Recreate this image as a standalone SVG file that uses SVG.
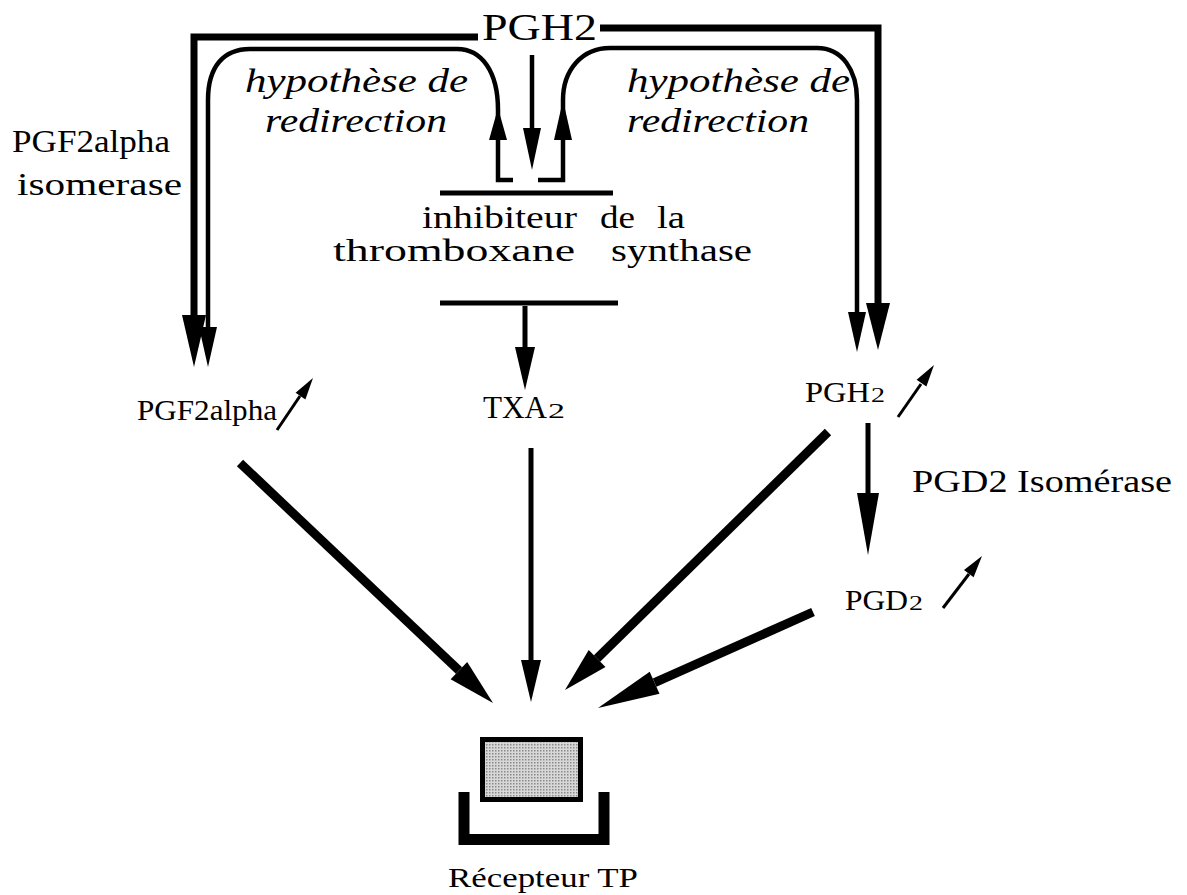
<svg xmlns="http://www.w3.org/2000/svg" width="1187" height="895" viewBox="0 0 1187 895">
<defs>
<style>
.t{font-family:"Liberation Serif","DejaVu Serif",serif;fill:#000}
.it{font-family:"Liberation Serif","DejaVu Serif",serif;font-style:italic;fill:#000}
.thick{fill:none;stroke:#000;stroke-width:7}
.inner{fill:none;stroke:#000;stroke-width:4.5}
.mid{fill:none;stroke:#000;stroke-width:5}
.diag{fill:none;stroke:#000;stroke-width:9}
.small{fill:none;stroke:#000;stroke-width:3}
.bar{fill:none;stroke:#000;stroke-width:5}
.head{fill:#000;stroke:none}
</style>
<pattern id="dots" width="3" height="3" patternUnits="userSpaceOnUse">
<rect width="3" height="3" fill="#d8d8d8"/>
<rect width="1.5" height="1.5" fill="#8a8a8a"/>
</pattern>
</defs>
<rect width="1187" height="895" fill="#fff"/>

<g id="node-pgh2-top">
<text class="t" x="482" y="40" font-size="38" textLength="115" lengthAdjust="spacingAndGlyphs">PGH2</text>
</g>

<g id="label-redirection-left">
<text class="it" x="245" y="92" font-size="33" textLength="223" lengthAdjust="spacingAndGlyphs">hypothèse de</text>
<text class="it" x="265" y="132" font-size="33" textLength="182" lengthAdjust="spacingAndGlyphs">redirection</text>
</g>

<g id="label-redirection-right">
<text class="it" x="627" y="92" font-size="33" textLength="223" lengthAdjust="spacingAndGlyphs">hypothèse de</text>
<text class="it" x="627" y="132" font-size="33" textLength="182" lengthAdjust="spacingAndGlyphs">redirection</text>
</g>

<g id="label-pgf2alpha-isomerase">
<text class="t" x="12" y="152" font-size="32" textLength="158" lengthAdjust="spacingAndGlyphs">PGF2alpha</text>
<text class="t" x="17" y="195" font-size="32" textLength="165" lengthAdjust="spacingAndGlyphs">isomerase</text>
</g>

<g id="node-inhibitor">
<line class="bar" x1="440" y1="193" x2="613" y2="193"/>
<text class="t" y="228" font-size="31"><tspan x="422" textLength="155" lengthAdjust="spacingAndGlyphs">inhibiteur</tspan><tspan x="600" textLength="35" lengthAdjust="spacingAndGlyphs">de</tspan><tspan x="657" textLength="28" lengthAdjust="spacingAndGlyphs">la</tspan></text>
<text class="t" y="261" font-size="31"><tspan x="333" textLength="242" lengthAdjust="spacingAndGlyphs">thromboxane</tspan><tspan x="611" textLength="141" lengthAdjust="spacingAndGlyphs">synthase</tspan></text>
<line class="bar" x1="440" y1="303" x2="618" y2="303"/>
</g>

<g id="node-pgf2alpha">
<text class="t" x="137" y="420" font-size="29" textLength="140" lengthAdjust="spacingAndGlyphs">PGF2alpha</text>
<line class="small" x1="277" y1="430" x2="300" y2="396"/>
<polygon class="head" points="313,378 305.4,399.5 295.6,392.7"/>
</g>

<g id="node-txa2">
<text class="t" x="483" y="418" font-size="31"><tspan textLength="64" lengthAdjust="spacingAndGlyphs">TXA</tspan><tspan font-size="22" x="548" textLength="17" lengthAdjust="spacingAndGlyphs">2</tspan></text>
</g>

<g id="node-pgh2">
<text class="t" x="805" y="402" font-size="29"><tspan textLength="65" lengthAdjust="spacingAndGlyphs">PGH</tspan><tspan font-size="20" x="871" textLength="14" lengthAdjust="spacingAndGlyphs">2</tspan></text>
<line class="small" x1="898" y1="417" x2="921" y2="384"/>
<polygon class="head" points="934,365 926.4,386.5 916.6,379.7"/>
</g>

<g id="label-pgd2-isomerase">
<text class="t" x="912" y="492" font-size="32" textLength="260" lengthAdjust="spacingAndGlyphs">PGD2 Isomérase</text>
</g>

<g id="node-pgd2">
<text class="t" x="845" y="610" font-size="29"><tspan textLength="63" lengthAdjust="spacingAndGlyphs">PGD</tspan><tspan font-size="20" x="909" textLength="14" lengthAdjust="spacingAndGlyphs">2</tspan></text>
<line class="small" x1="943" y1="608" x2="969" y2="574"/>
<polygon class="head" points="982,556 973.6,577.2 964,570"/>
</g>

<g id="node-receptor">
<rect x="482.5" y="739.5" width="98" height="60" fill="url(#dots)" stroke="#000" stroke-width="5"/>
<path d="M464 792 V839.5 H604 V792" fill="none" stroke="#000" stroke-width="11"/>
<text class="t" x="448" y="887" font-size="28" textLength="190" lengthAdjust="spacingAndGlyphs">Récepteur TP</text>
</g>

<g id="connectors">
<!-- outer thick paths from PGH2 -->
<path class="thick" d="M478 37 H194 V318"/>
<polygon class="head" points="182,315 206,315 194,367"/>
<path class="thick" d="M600 28 H878 V306"/>
<polygon class="head" points="866,303 890,303 878,350"/>
<!-- inner redirection paths -->
<path class="inner" d="M513 180 H498 V110 C498 72 482 49 457 49 H250 C224 49 208 66 208 100 V330"/>
<polygon class="head" points="199,327 217,327 208,367"/>
<polygon class="head" points="489,140 507,140 498,108"/>
<path class="inner" d="M538 180 H563 V100 C563 70 582 48 610 48 H817 C842 48 857 70 857 100 V315"/>
<polygon class="head" points="848,312 866,312 857,352"/>
<polygon class="head" points="554,140 572,140 563,100"/>
<!-- central down arrow -->
<line class="inner" x1="532" y1="55" x2="532" y2="130"/>
<polygon class="head" points="523,128 541,128 532,170"/>
<!-- inhibitor to TXA2 -->
<line class="mid" x1="525" y1="306" x2="525" y2="350"/>
<polygon class="head" points="515,347 535,347 525,390"/>
<!-- PGH2 to PGD2 -->
<line class="mid" x1="868" y1="423" x2="868" y2="496"/>
<polygon class="head" points="857,493 879,493 868,555"/>
<!-- to receptor -->
<line class="diag" x1="240" y1="463" x2="459" y2="670.6"/>
<polygon class="head" points="493,703 450.6,679.3 467.2,661.9"/>
<line class="mid" x1="531" y1="448" x2="531" y2="663"/>
<polygon class="head" points="521,660 541,660 531,702"/>
<line class="diag" x1="828" y1="432" x2="597" y2="658.5"/>
<polygon class="head" points="565,690 588.7,650 605.5,667"/>
<line class="diag" x1="813" y1="612" x2="654.6" y2="682.7"/>
<polygon class="head" points="598,708 649.7,671.7 659.5,693.7"/>
</g>
</svg>
